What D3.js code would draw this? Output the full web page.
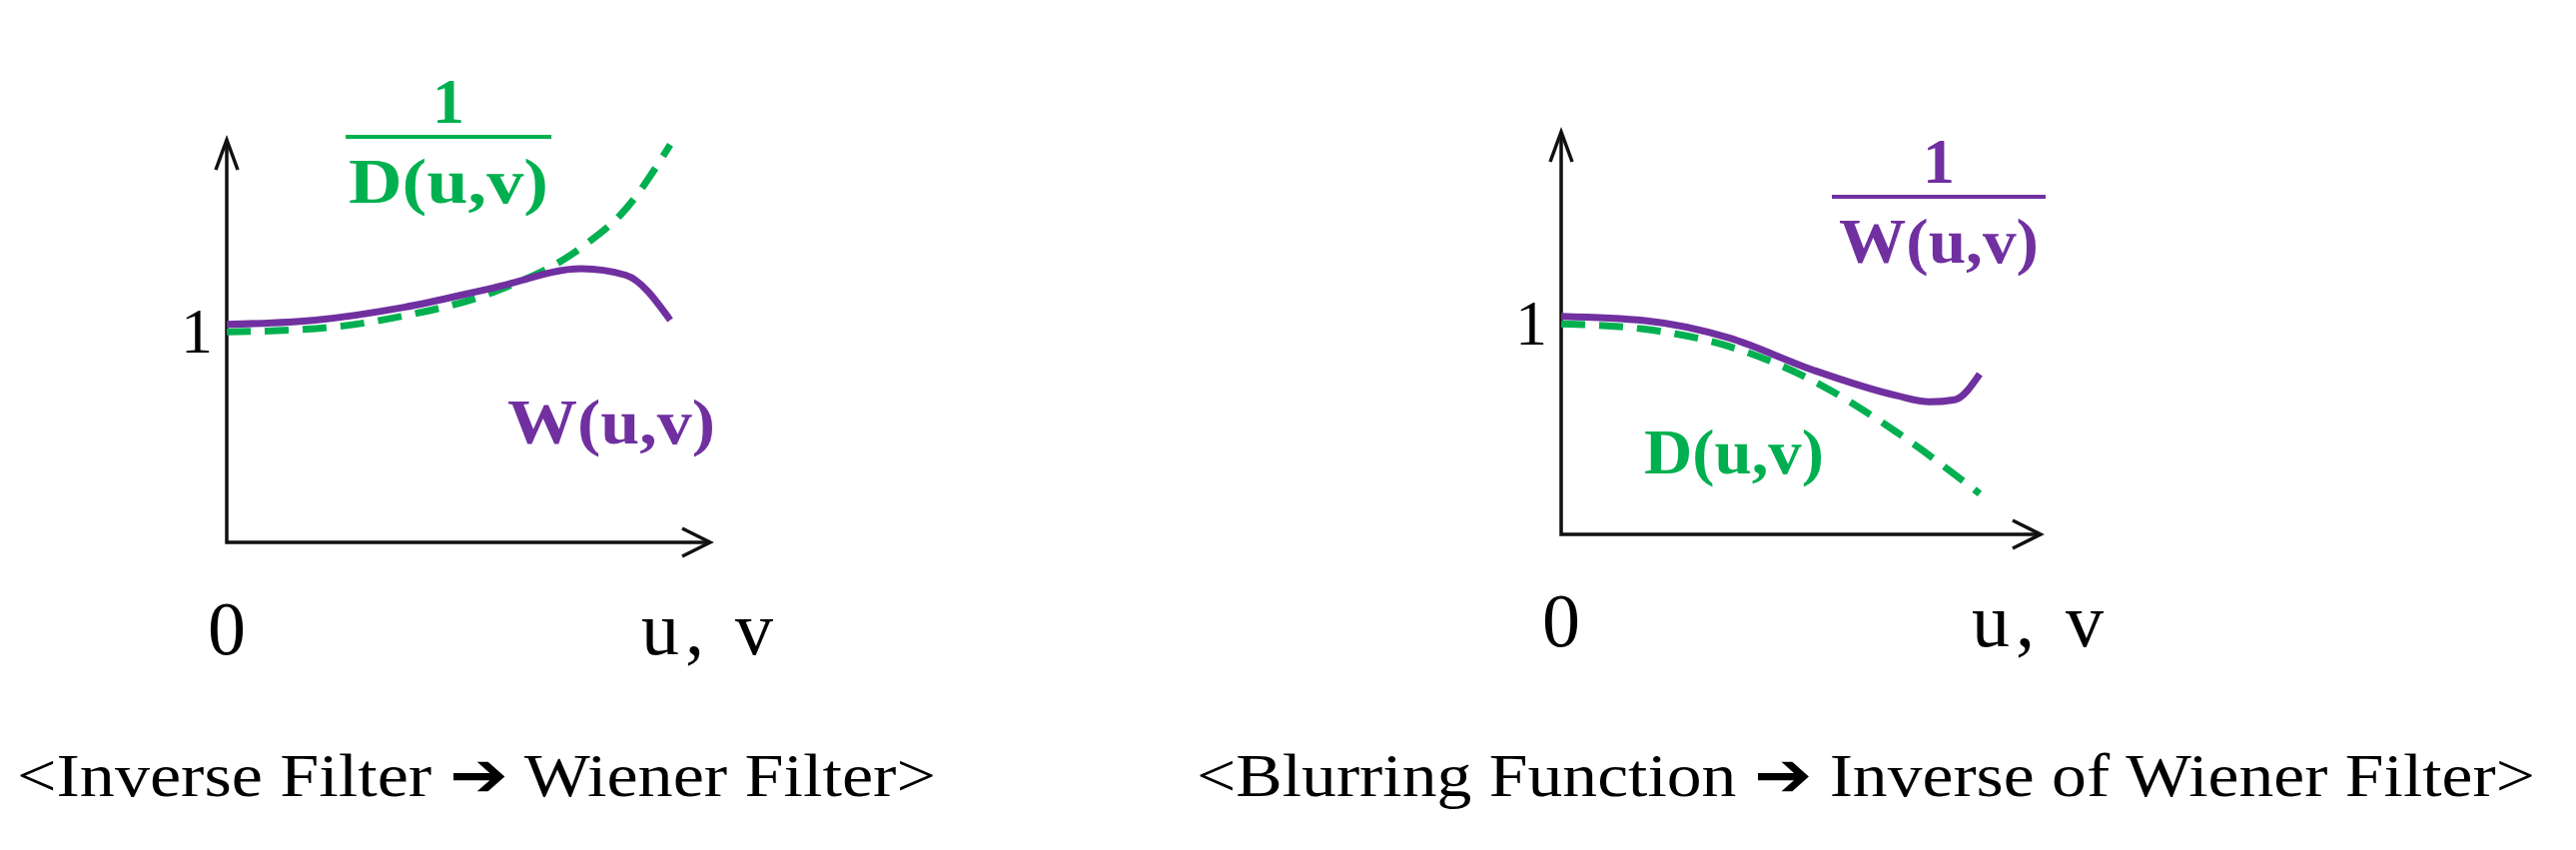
<!DOCTYPE html>
<html><head><meta charset="utf-8">
<script src="https://cdn.jsdelivr.net/npm/d3@7"></script>
<style>body{margin:0;background:#fff}svg{display:block}text{font-family:"Liberation Serif","DejaVu Serif",serif}</style>
</head><body>
<svg id="chart" width="2579" height="851"></svg>
<script>
const xs = [0, 0.2, 0.4, 0.6, 0.8, 0.9, 1.0];
const leftW = [1.02, 1.04, 1.10, 1.19, 1.28, 1.25, 1.04];
const leftD = [0.985, 1.0, 1.06, 1.17, 1.38, 1.56, 1.86];
const rightXs = [0, 0.2, 0.4, 0.6, 0.8, 0.88, 0.94, 1.0];
const rightW = [1.02, 1.0, 0.92, 0.77, 0.65, 0.62, 0.63, 0.75];
const rightDx = [0, 0.2, 0.4, 0.6, 0.8, 1.0];
const rightD = [0.985, 0.96, 0.88, 0.72, 0.48, 0.19];

const PURPLE = '#7030a0', GREEN = '#00b050';
const svg = d3.select('svg#chart');

function panel(o) {
  const x = d3.scaleLinear().domain([0, 1]).range([o.x0, o.x1]);
  const y = d3.scaleLinear().domain([0, 1]).range([o.y0, o.y1]);
  const g = svg.append('g');
  g.append('path').attr('d', `M${o.x0},${o.top}V${o.y0}H${o.end}`)
    .attr('fill', 'none').attr('stroke', '#111').attr('stroke-width', 3.5);
  g.append('path').attr('d', `M${o.x0 - 11},${o.top + 30}L${o.x0},${o.top}L${o.x0 + 11},${o.top + 30}`)
    .attr('fill', 'none').attr('stroke', '#111').attr('stroke-width', 3.5);
  g.append('path').attr('d', `M${o.end - 28},${o.y0 - 14}L${o.end},${o.y0}L${o.end - 28},${o.y0 + 14}`)
    .attr('fill', 'none').attr('stroke', '#111').attr('stroke-width', 3.5);
  const line = d3.line().x(d => x(d[0])).y(d => y(d[1])).curve(d3.curveMonotoneX);
  g.append('path').attr('d', line(o.dx.map((v, i) => [v, o.d[i]])))
    .attr('fill', 'none').attr('stroke', GREEN).attr('stroke-width', 7).attr('stroke-dasharray', '24,14');
  g.append('path').attr('d', line(o.wx.map((v, i) => [v, o.w[i]])))
    .attr('fill', 'none').attr('stroke', PURPLE).attr('stroke-width', 7);
  g.append('text').attr('x', o.x0 - 30).attr('y', y(1) + 24).attr('text-anchor', 'middle')
    .attr('font-size', 64).text('1');
  g.append('text').attr('x', o.x0).attr('y', o.y0 + 112).attr('text-anchor', 'middle')
    .attr('font-size', 76).text('0');
  g.append('text').attr('x', o.end - 3).attr('y', o.y0 + 112).attr('text-anchor', 'middle')
    .attr('font-size', 76).attr('textLength', 132).text('u, v');
  g.append('text').attr('x', o.cap).attr('y', 797).attr('text-anchor', 'middle')
    .attr('font-size', 62).attr('textLength', o.capLen).attr('lengthAdjust', 'spacingAndGlyphs')
    .text(o.caption);
  return g;
}

function boldText(g, cx, y, color, t, len) {
  const s = g.append('text').attr('x', cx).attr('y', y).attr('text-anchor', 'middle')
    .attr('font-size', 64).attr('font-weight', 'bold').attr('fill', color).text(t);
  if (len) s.attr('textLength', len).attr('lengthAdjust', 'spacingAndGlyphs');
}
function frac(g, cx, y, w, color, den) {
  boldText(g, cx, y - 14, color, '1');
  g.append('line').attr('x1', cx - w / 2).attr('x2', cx + w / 2).attr('y1', y).attr('y2', y)
    .attr('stroke', color).attr('stroke-width', 4);
  boldText(g, cx, y + 66, color, den, 200);
}

const L = panel({x0: 227, x1: 671, y0: 543, y1: 329, top: 140, end: 711,
  wx: xs, w: leftW, dx: xs, d: leftD, cap: 477, capLen: 920,
  caption: '<Inverse Filter \u2794 Wiener Filter>'});
frac(L, 449, 137, 206, GREEN, 'D(u,v)');
boldText(L, 612, 444, PURPLE, 'W(u,v)', 208);

const R = panel({x0: 1563, x1: 1982, y0: 535, y1: 321, top: 132, end: 2043,
  wx: rightXs, w: rightW, dx: rightDx, d: rightD, cap: 1868, capLen: 1340,
  caption: '<Blurring Function \u2794 Inverse of Wiener Filter>'});
frac(R, 1941, 197, 214, PURPLE, 'W(u,v)');
boldText(R, 1736, 474, GREEN, 'D(u,v)', 180);
</script>
</body></html>
